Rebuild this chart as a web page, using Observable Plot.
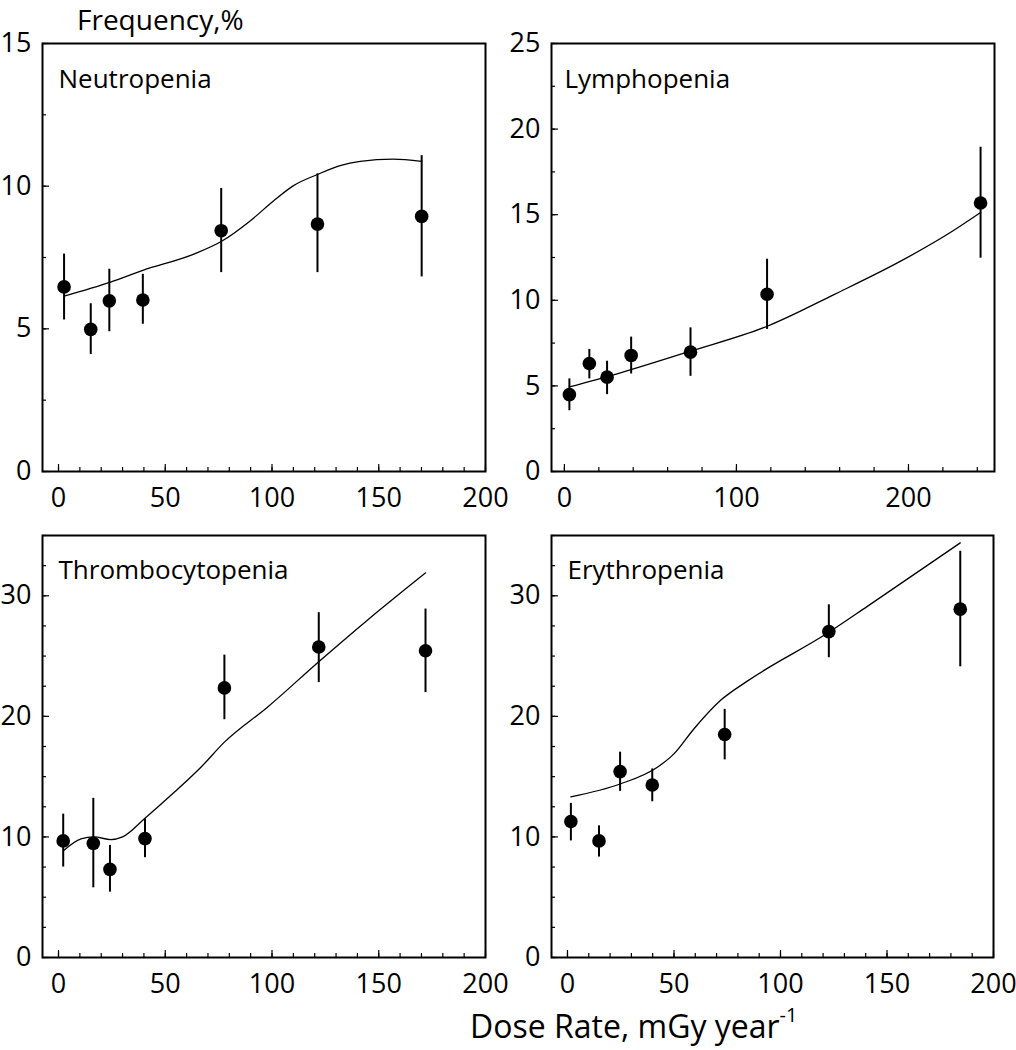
<!DOCTYPE html>
<html><head><meta charset="utf-8">
<script src="https://cdn.jsdelivr.net/npm/d3@7"></script>
<script src="https://cdn.jsdelivr.net/npm/@observablehq/plot@0.6"></script>
<style>
body{margin:0;background:#fff;font-family:"Open Sans",sans-serif;}
#wrap{position:relative;width:1016px;height:1050px;overflow:hidden;background:#fff;}
.ttl{position:absolute;color:#000;white-space:nowrap;line-height:1.4;}
</style></head><body>
<div id="wrap">
<div class="ttl" style="left:77px;top:0px;font-size:28px;">Frequency,%</div>
<div class="ttl" style="left:470px;top:1005px;font-size:32px;line-height:1.3;">Dose Rate, mGy year<span style="font-size:20px;position:relative;top:-16px;">-1</span></div>
</div>
<script>
// ---- Neutropenia ----
const nX  = [2.6, 15.1, 23.8, 39.5, 76.2, 121.3, 170.1];
const nY  = [6.47, 4.98, 5.98, 6.01, 8.44, 8.67, 8.94];
const nLo = [5.31, 4.1, 4.9, 5.16, 6.97, 6.97, 6.82];
const nHi = [7.62, 5.88, 7.09, 6.91, 9.92, 10.43, 11.07];
const nFitX = [2.6, 24.4, 39.5, 63.4, 76.2, 89.9, 100.8, 110.1, 121.0, 131.9, 141.3, 156.8, 170.1];
const nFitY = [6.15, 6.64, 7.05, 7.62, 8.06, 8.79, 9.49, 10.02, 10.4, 10.72, 10.87, 10.95, 10.87];
// ---- Lymphopenia ----
const lX  = [2.9, 14.5, 24.8, 38.8, 73.3, 117.8, 241.9];
const lY  = [4.49, 6.31, 5.51, 6.78, 6.97, 10.35, 15.68];
const lLo = [3.55, 5.41, 4.49, 5.7, 5.56, 8.3, 12.46];
const lHi = [5.41, 7.13, 6.44, 7.85, 8.39, 12.4, 18.94];
const lFitX = [2.9, 29.1, 73.3, 118.2, 157, 195.7, 222.9, 241.9];
const lFitY = [4.94, 5.66, 7.03, 8.5, 10.35, 12.3, 13.87, 15.13];
// ---- Thrombocytopenia ----
const tX  = [2.2, 16.3, 24.1, 40.5, 77.7, 121.9, 171.9];
const tY  = [9.67, 9.47, 7.31, 9.86, 22.36, 25.75, 25.44];
const tLo = [7.5, 5.78, 5.42, 8.28, 19.72, 22.8, 21.97];
const tHi = [11.89, 13.2, 9.3, 11.5, 25.08, 28.6, 28.9];
const tFitX = [2.2, 10.5, 16.7, 24.5, 30, 40.5, 54.2, 66.7, 77.7, 98, 121.9, 144.8, 171.9];
const tFitY = [8.83, 9.83, 10.0, 9.78, 10.0, 11.55, 13.7, 15.78, 17.86, 20.78, 24.53, 28, 31.9];
// ---- Erythropenia ----
const eX  = [1.6, 14.8, 24.7, 39.8, 73.8, 122.7, 184.4];
const eY  = [11.28, 9.67, 15.42, 14.31, 18.5, 27.03, 28.89];
const eLo = [9.67, 8.33, 13.78, 12.92, 16.39, 24.86, 24.11];
const eHi = [12.78, 10.92, 17.03, 15.64, 20.58, 29.25, 33.69];
const eFitX = [1.6, 24.7, 42.2, 50, 59.4, 71.9, 84.4, 122.7, 140.6, 184.4];
const eFitY = [13.33, 14.39, 15.78, 16.89, 18.97, 21.33, 22.92, 26.97, 29.1, 34.39];

// ---- tick labels ----
const xTicks200 = [0, 50, 100, 150, 200];
const xMinor200 = d3.range(0, 201, 10);
const xTicks250 = [0, 100, 200];
const xMinor250 = d3.range(0, 241, 20);
const yTicks15 = [0, 5, 10, 15];
const yTicks25 = [0, 5, 10, 15, 20, 25];
const yTicks35 = [0, 10, 20, 30];
const yMinor15 = d3.range(0, 15.1, 2.5);
const yMinor25 = d3.range(0, 25.1, 2.5);
const yMinor35 = d3.range(0, 35.1, 2.5);

const panelNames = ["Neutropenia", "Lymphopenia", "Thrombocytopenia", "Erythropenia"];

const FONT = "Open Sans, sans-serif";
const wrap = document.getElementById("wrap");

function panel(o) {
  const pts = o.px.map((x, i) => ({x, y: o.py[i], lo: o.lo[i], hi: o.hi[i]}));
  const fit = o.fitX.map((x, i) => ({x, y: o.fitY[i]}));
  const svg = Plot.plot({
    width: o.width, height: o.height,
    marginLeft: o.ml, marginRight: o.mr, marginTop: o.mt, marginBottom: o.mb,
    style: {background: "transparent", overflow: "visible", fontFamily: FONT, color: "black"},
    x: {domain: o.xDomain},
    y: {domain: o.yDomain},
    marks: [
      Plot.axisX({ticks: o.xMinor, tickSize: -4, tickFormat: () => "", label: null, strokeWidth: 1.2}),
      Plot.axisX({ticks: o.xMajor, tickSize: -7, tickFormat: () => "", label: null, strokeWidth: 1.2}),
      Plot.axisX({ticks: o.xMajor, tickSize: 0, tickPadding: 16, label: null, fontSize: 27}),
      Plot.axisY({ticks: o.yMinor, tickSize: -4, tickFormat: () => "", label: null, strokeWidth: 1.2}),
      Plot.axisY({ticks: o.yMajor, tickSize: -7, tickFormat: () => "", label: null, strokeWidth: 1.2}),
      Plot.axisY({ticks: o.yMajor, tickSize: 0, tickPadding: 11, label: null, fontSize: 27}),
      Plot.frame({strokeWidth: 2, stroke: "black"}),
      Plot.line(fit, {x: "x", y: "y", curve: "monotone-x", strokeWidth: 1.3, stroke: "black"}),
      Plot.ruleX(pts, {x: "x", y1: "lo", y2: "hi", strokeWidth: 2, stroke: "black"}),
      Plot.dot(pts, {x: "x", y: "y", r: 6.8, fill: "black", stroke: "none"}),
      Plot.text([o.label], {text: d => d, frameAnchor: "top-left", dx: o.ldx, dy: o.ldy,
        textAnchor: "start", lineAnchor: "bottom", fontSize: 26, fill: "black"})
    ]
  });
  svg.style.position = "absolute";
  svg.style.left = o.left + "px";
  svg.style.top = o.top + "px";
  wrap.appendChild(svg);
}

panel({px: nX, py: nY, lo: nLo, hi: nHi, fitX: nFitX, fitY: nFitY,
  xDomain: [-7.5, 200], xMajor: xTicks200, xMinor: xMinor200,
  yDomain: [0, 15], yMajor: yTicks15, yMinor: yMinor15, label: panelNames[0],
  width: 500, height: 520, ml: 42, mr: 15, mt: 43, mb: 49, ldx: 16, ldy: 44, left: 0, top: 0});

panel({px: lX, py: lY, lo: lLo, hi: lHi, fitX: lFitX, fitY: lFitY,
  xDomain: [-7.5, 250], xMajor: xTicks250, xMinor: xMinor250,
  yDomain: [0, 25], yMajor: yTicks25, yMinor: yMinor25, label: panelNames[1],
  width: 516, height: 520, ml: 51, mr: 22, mt: 43, mb: 49, ldx: 13, ldy: 44, left: 500, top: 0});

panel({px: tX, py: tY, lo: tLo, hi: tHi, fitX: tFitX, fitY: tFitY,
  xDomain: [-7.5, 200], xMajor: xTicks200, xMinor: xMinor200,
  yDomain: [0, 35], yMajor: yTicks35, yMinor: yMinor35, label: panelNames[2],
  width: 500, height: 480, ml: 42, mr: 15, mt: 15, mb: 43, ldx: 16, ldy: 43, left: 0, top: 520});

panel({px: eX, py: eY, lo: eLo, hi: eHi, fitX: eFitX, fitY: eFitY,
  xDomain: [-7.5, 200], xMajor: xTicks200, xMinor: xMinor200,
  yDomain: [0, 35], yMajor: yTicks35, yMinor: yMinor35, label: panelNames[3],
  width: 516, height: 480, ml: 51, mr: 23, mt: 15, mb: 43, ldx: 16, ldy: 43, left: 500, top: 520});
</script>
</body></html>
